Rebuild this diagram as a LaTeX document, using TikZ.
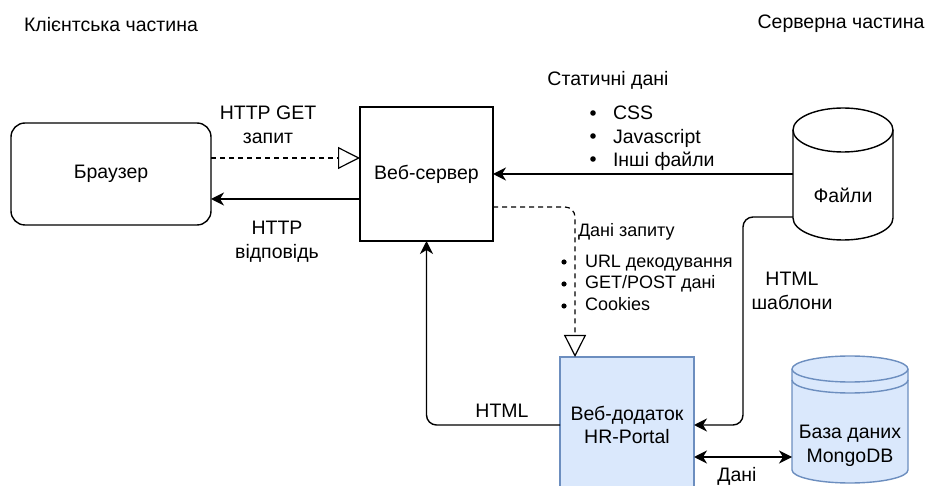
\documentclass[tikz,border=0pt]{standalone}
\usepackage{fontspec}
\setmainfont{Liberation Sans}
\usetikzlibrary{arrows.meta,calc}
\definecolor{appfill}{HTML}{DAE8FC}
\definecolor{appline}{HTML}{6C8EBF}

\begin{document}
\begin{tikzpicture}[x=1pt,y=-1pt,
  every node/.style={inner sep=0pt, outer sep=0pt, font=\fontsize{19.5}{23.5}\selectfont},
  smallfont/.style={font=\fontsize{18}{21.5}\selectfont},
  blockbox/.style={draw=black, line width=1.4pt},
  conn/.style={line width=1.4pt, line join=round},
  flow/.style={conn, -{Stealth[length=13pt,width=13pt,inset=4pt]}},
  twoway/.style={conn, {Stealth[length=13pt,width=13pt,inset=4pt]}-{Stealth[length=13pt,width=13pt,inset=4pt]}},
  request/.style={conn, line width=1.2pt, dash pattern=on 5pt off 4pt,
    -{Triangle[open,length=22pt,width=22pt,line width=1.2pt,sep=0pt]}},
  disc/.style={fill=black},
]
\useasboundingbox (0,0) rectangle (930,486);
\clip (0,0) rectangle (930,486);

% headings
\node (client) at (111,25) {Клієнтська частина};
\node (server) at (841,24) {Серверна частина};

% blocks
\node[blockbox, rounded corners=14pt, minimum width=200, minimum height=102] (br) at (111,174) {Браузер};
\node[blockbox, minimum width=133, minimum height=134] (ws) at (426.5,174) {Веб-сервер};
\node[draw=appline, fill=appfill, line width=1.4pt, minimum width=134, minimum height=136, align=center] (app) at (627,425) {Веб-додаток\\HR-Portal};

% file storage cylinder
\node[minimum width=100, minimum height=132] (files) at (843,174) {};
\draw[line width=1.4pt] (793,130) -- (793,218)
  arc[start angle=180, end angle=360, x radius=50pt, y radius=22pt] -- (893,130)
  arc[start angle=0, end angle=180, x radius=50pt, y radius=22pt] -- cycle;
\draw[line width=1.4pt] (793,130) arc[start angle=180, end angle=360, x radius=50pt, y radius=22pt];
\node (filestext) at (843,195) {Файли};

% database cylinder
\node[minimum width=116, minimum height=127] (mdb) at (850,419.5) {};
\draw[line width=1.4pt, draw=appline, fill=appfill] (792,369) -- (792,470)
  arc[start angle=180, end angle=360, x radius=58pt, y radius=13pt] -- (908,369)
  arc[start angle=0, end angle=180, x radius=58pt, y radius=13pt] -- cycle;
\draw[line width=1.4pt, draw=appline] (792,369) arc[start angle=180, end angle=360, x radius=58pt, y radius=13pt];
\draw[line width=1.4pt, draw=appline] (792,380) arc[start angle=180, end angle=360, x radius=58pt, y radius=13pt];
\node[align=center] (mdbtext) at (850,446) {База даних\\MongoDB};

% browser <-> web server
\draw[request] ([yshift=16pt]br.east) -- ([yshift=16pt]ws.west);
\draw[flow] ([yshift=-25pt]ws.west) -- ([yshift=-25pt]br.east);
\node[align=center] (getlbl) at (268,125) {HTTP GET\\запит};
\node[align=center] (resplbl) at (277,241.5) {HTTP\\відповідь};

% static files
\draw[flow] (files.west) -- (ws.east);
\node (statlbl) at (608,80) {Статичні дані};
\node[anchor=west, align=left] (statlist) at (613,138.5)
  {CSS\\Javascript\\Інші файли};
\foreach \y in {113,136,159} \fill[disc] (593,\y) circle (2.8pt);

% request data to the application
\coordinate (reqend) at ([xshift=-52pt]app.north);
\draw[request, rounded corners=10pt] ([yshift=-33pt]ws.east) -| (reqend);
\node[smallfont, anchor=west] (reqlbl) at (578,232) {Дані запиту};
\node[smallfont, anchor=west, align=left] (reqlist) at (585,282.5)
  {URL декодування\\GET/POST дані\\Cookies};
\foreach \y in {262,284,306} \fill[disc] (564,\y) circle (2.6pt);

% generated HTML back to the web server
\draw[flow, rounded corners=10pt] (app.west) -| (ws.south);
\node (htmllbl) at (502,411) {HTML};

% templates from the files
\coordinate (tplturn) at ([xshift=49pt]app.east);
\draw[flow, rounded corners=10pt] ([yshift=-43pt]files.west) -| (tplturn) -- (app.east);
\node[align=center] (tpllbl) at (792,291) {HTML\\шаблони};

% application <-> database
\coordinate (dbport) at ([yshift=-32pt]app.east);
\draw[twoway] (dbport) -- (mdb.west |- dbport);
\node (datalbl) at (737,476) {Дані};
\end{tikzpicture}
\end{document}
